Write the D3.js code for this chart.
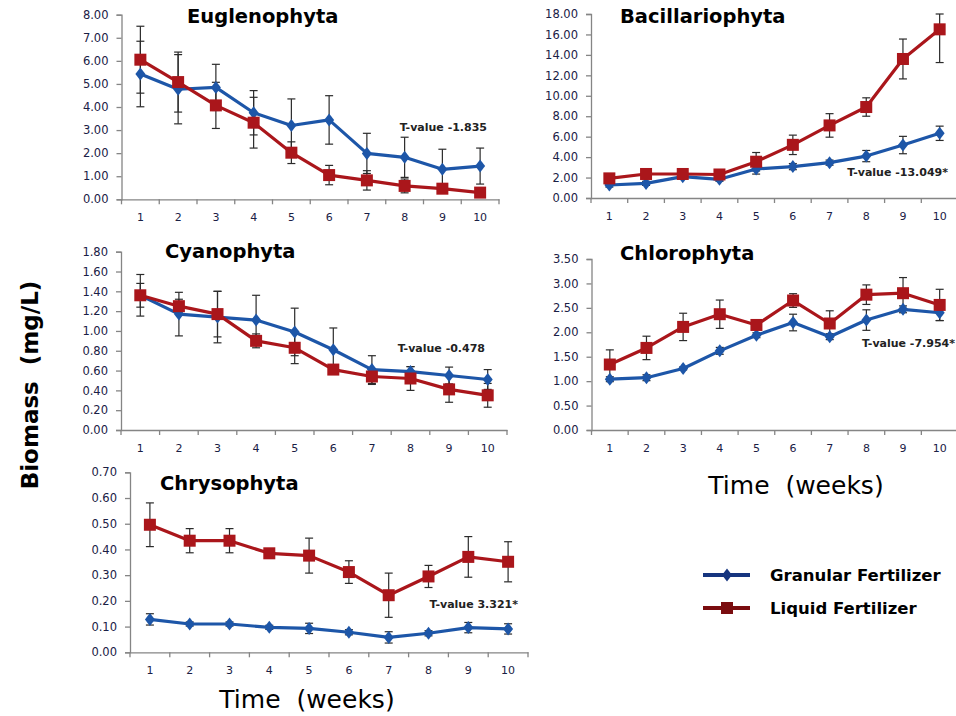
<!DOCTYPE html>
<html>
<head>
<meta charset="utf-8">
<script src="https://cdn.jsdelivr.net/npm/d3@7"></script>
<style>
  body { margin: 0; background: #fff; }
  svg { display: block; }
</style>
</head>
<body>
<div id="content-holder"></div>
<script>
// weeks on the x axis
var weeks = [1, 2, 3, 4, 5, 6, 7, 8, 9, 10];

// Euglenophyta
var eugGranular = [5.43, 4.77, 4.85, 3.75, 3.20, 3.44, 1.99, 1.82, 1.30, 1.44];
var eugGranularErr = [1.42, 1.50, 1.00, 0.96, 1.15, 1.05, 0.87, 0.87, 0.87, 0.78];
var eugLiquid = [6.05, 5.08, 4.07, 3.32, 2.02, 1.05, 0.82, 0.58, 0.46, 0.29];
var eugLiquidErr = [1.45, 1.30, 1.00, 1.10, 0.47, 0.42, 0.42, 0.30, 0.20, 0.10];

// Bacillariophyta
var bacGranular = [1.27, 1.43, 2.09, 1.83, 2.84, 3.07, 3.46, 4.10, 5.18, 6.33];
var bacGranularErr = [0.20, 0.20, 0.20, 0.20, 0.50, 0.30, 0.25, 0.55, 0.85, 0.70];
var bacLiquid = [1.92, 2.35, 2.35, 2.30, 3.55, 5.20, 7.10, 8.90, 13.60, 16.50];
var bacLiquidErr = [0.15, 0.15, 0.15, 0.15, 0.90, 0.95, 1.15, 0.90, 1.95, 3.25];

// Cyanophyta
var cyaGranular = [1.36, 1.17, 1.14, 1.11, 0.99, 0.81, 0.61, 0.59, 0.55, 0.51];
var cyaGranularErr = [0.12, 0.22, 0.26, 0.25, 0.24, 0.22, 0.14, 0.05, 0.085, 0.10];
var cyaLiquid = [1.36, 1.25, 1.17, 0.90, 0.83, 0.61, 0.54, 0.52, 0.41, 0.35];
var cyaLiquidErr = [0.21, 0.07, 0.23, 0.07, 0.16, 0.02, 0.08, 0.12, 0.13, 0.12];

// Chlorophyta
var chlGranular = [1.04, 1.07, 1.26, 1.62, 1.94, 2.20, 1.91, 2.25, 2.47, 2.40];
var chlGranularErr = [0.05, 0.06, 0.03, 0.07, 0.05, 0.17, 0.06, 0.21, 0.07, 0.16];
var chlLiquid = [1.34, 1.68, 2.11, 2.37, 2.15, 2.65, 2.18, 2.77, 2.80, 2.56];
var chlLiquidErr = [0.30, 0.24, 0.28, 0.29, 0.05, 0.14, 0.26, 0.20, 0.32, 0.32];

// Chrysophyta
var chrGranular = [0.128, 0.110, 0.110, 0.097, 0.093, 0.078, 0.058, 0.074, 0.096, 0.091];
var chrGranularErr = [0.022, 0.008, 0.008, 0.008, 0.020, 0.010, 0.022, 0.010, 0.020, 0.020];
var chrLiquid = [0.496, 0.434, 0.434, 0.385, 0.376, 0.312, 0.222, 0.295, 0.371, 0.352];
var chrLiquidErr = [0.085, 0.047, 0.047, 0.005, 0.068, 0.044, 0.086, 0.043, 0.079, 0.078];

var seriesNames = ["Granular Fertilizer", "Liquid Fertilizer"];

var ready = function(){
	var W = 956, H = 716;
	var blue = "#1d56a8", red = "#aa161b";
	var fontFam = "'DejaVu Sans', Verdana, sans-serif";

	var svg = d3.select('#content-holder')
		.append("svg")
		.attr("width", W)
		.attr("height", H)
		.attr("id", "ourCanvas");

	// where each small chart sits on the page
	var panels = [
		{title: "Euglenophyta", g: eugGranular, gE: eugGranularErr, l: eugLiquid, lE: eugLiquidErr,
			yMax: 8, step: 1, tVal: "T-value -1.835",
			left: 121.5, right: 499, top: 14.7, bottom: 199.3, titleX: 187, titleY: 23, tX: 487, tY: 131},
		{title: "Bacillariophyta", g: bacGranular, gE: bacGranularErr, l: bacLiquid, lE: bacLiquidErr,
			yMax: 18, step: 2, tVal: "T-value -13.049*",
			left: 591, right: 958, top: 14, bottom: 198, titleX: 620, titleY: 23, tX: 948, tY: 176},
		{title: "Cyanophyta", g: cyaGranular, gE: cyaGranularErr, l: cyaLiquid, lE: cyaLiquidErr,
			yMax: 1.8, step: 0.2, tVal: "T-value -0.478",
			left: 121, right: 507, top: 251.7, bottom: 430, titleX: 165, titleY: 258, tX: 485, tY: 352},
		{title: "Chlorophyta", g: chlGranular, gE: chlGranularErr, l: chlLiquid, lE: chlLiquidErr,
			yMax: 3.5, step: 0.5, tVal: "T-value -7.954*",
			left: 591.5, right: 958, top: 259, bottom: 430, titleX: 620, titleY: 260, tX: 955, tY: 347},
		{title: "Chrysophyta", g: chrGranular, gE: chrGranularErr, l: chrLiquid, lE: chrLiquidErr,
			yMax: 0.7, step: 0.1, tVal: "T-value 3.321*",
			left: 130, right: 528, top: 472.3, bottom: 652.3, titleX: 160, titleY: 490, tX: 518, tY: 608}
	];

	var diamond = "M0,-6.5L5,0L0,6.5L-5,0Z";

	var drawPanel = function(p){
		var g = svg.append("g");
		var x = d3.scaleBand().domain(weeks).range([p.left, p.right]).padding(0);
		var y = d3.scaleLinear().domain([0, p.yMax]).range([p.bottom, p.top]);
		var cx = function(i){ return x(weeks[i]) + x.bandwidth()/2; };
		var yTicks = d3.range(0, p.yMax + p.step/2, p.step);

		// y axis
		var yAxis = g.append("g")
			.attr("transform", "translate(" + p.left + ",0)")
			.call(d3.axisLeft(y).tickValues(yTicks).tickSize(5).tickPadding(8).tickFormat(d3.format(".2f")));
		yAxis.select(".domain").attr("stroke", "#858585").attr("stroke-width", 1.3);
		yAxis.selectAll(".tick line").attr("stroke", "#858585").attr("stroke-width", 1.3);
		yAxis.selectAll("text")
			.attr("font-family", fontFam)
			.attr("font-size", "11.5px")
			.attr("fill", "#1a2045");

		// x axis, ticks between weeks like excel
		var xAxis = g.append("g")
			.attr("transform", "translate(0," + p.bottom + ")")
			.call(d3.axisBottom(x).tickSize(0).tickPadding(14));
		xAxis.select(".domain").attr("stroke", "#858585").attr("stroke-width", 1.3);
		xAxis.selectAll("text")
			.attr("font-family", fontFam)
			.attr("font-size", "11px")
			.attr("fill", "#1a2045");
		xAxis.selectAll(".sep")
			.data(weeks.concat([null]))
			.enter().append("line")
			.attr("class", "sep")
			.attr("x1", function(d){ return d === null ? p.right : x(d); })
			.attr("x2", function(d){ return d === null ? p.right : x(d); })
			.attr("y1", 0)
			.attr("y2", 5)
			.attr("stroke", "#858585")
			.attr("stroke-width", 1.3);

		// error bars
		var drawErr = function(vals, errs){
			vals.forEach(function(v, i){
				var hi = y(Math.min(v + errs[i], p.yMax));
				var lo = y(Math.max(v - errs[i], 0));
				var eb = g.append("g").attr("class", "err");
				eb.append("line").attr("x1", cx(i)).attr("x2", cx(i)).attr("y1", hi).attr("y2", lo);
				eb.append("line").attr("x1", cx(i) - 4).attr("x2", cx(i) + 4).attr("y1", hi).attr("y2", hi);
				eb.append("line").attr("x1", cx(i) - 4).attr("x2", cx(i) + 4).attr("y1", lo).attr("y2", lo);
				eb.selectAll("line").attr("stroke", "#2b2b2b").attr("stroke-width", 1.2);
			});
		};
		drawErr(p.g, p.gE);
		drawErr(p.l, p.lE);

		var line = d3.line()
			.x(function(d, i){ return cx(i); })
			.y(function(d){ return y(d); });

		// granular series
		g.append("path")
			.datum(p.g)
			.attr("d", line)
			.attr("fill", "none")
			.attr("stroke", blue)
			.attr("stroke-width", 3.2)
			.attr("stroke-linejoin", "round");
		g.selectAll(".dia")
			.data(p.g)
			.enter().append("path")
			.attr("class", "dia")
			.attr("d", diamond)
			.attr("transform", function(d, i){ return "translate(" + cx(i) + "," + y(d) + ")"; })
			.attr("fill", blue);

		// liquid series
		g.append("path")
			.datum(p.l)
			.attr("d", line)
			.attr("fill", "none")
			.attr("stroke", red)
			.attr("stroke-width", 3.2)
			.attr("stroke-linejoin", "round");
		g.selectAll(".sq")
			.data(p.l)
			.enter().append("rect")
			.attr("class", "sq")
			.attr("x", function(d, i){ return cx(i) - 6; })
			.attr("y", function(d){ return y(d) - 6; })
			.attr("width", 12)
			.attr("height", 12)
			.attr("fill", red);

		g.append("text")
			.text(p.title)
			.attr("x", p.titleX)
			.attr("y", p.titleY)
			.attr("font-family", fontFam)
			.attr("font-weight", "bold")
			.attr("font-size", "19.5px")
			.attr("fill", "#000");

		g.append("text")
			.text(p.tVal)
			.attr("x", p.tX)
			.attr("y", p.tY)
			.attr("text-anchor", "end")
			.attr("font-family", fontFam)
			.attr("font-weight", "bold")
			.attr("font-size", "11px")
			.attr("fill", "#222");
	};

	panels.forEach(drawPanel);

	// shared axis titles
	svg.append("text")
		.text("Biomass  (mg/L)")
		.attr("transform", "translate(38,385) rotate(-90)")
		.attr("text-anchor", "middle")
		.style("white-space", "pre")
		.attr("font-family", fontFam)
		.attr("font-weight", "bold")
		.attr("font-size", "23px")
		.attr("fill", "#000");

	svg.selectAll(".xtitle")
		.data([[307, 708], [796, 494]])
		.enter().append("text")
		.attr("class", "xtitle")
		.text("Time  (weeks)")
		.attr("x", function(d){ return d[0]; })
		.attr("y", function(d){ return d[1]; })
		.attr("text-anchor", "middle")
		.style("white-space", "pre")
		.attr("font-family", fontFam)
		.attr("font-size", "25px")
		.attr("fill", "#000");

	// legend
	var legendColors = ["#16357f", "#7a0d0f"];
	var legend = svg.append("g").attr("transform", "translate(703,575)");
	seriesNames.forEach(function(name, i){
		var row = legend.append("g").attr("transform", "translate(0," + (i * 33) + ")");
		row.append("line")
			.attr("x1", 0).attr("x2", 47).attr("y1", 0).attr("y2", 0)
			.attr("stroke", legendColors[i])
			.attr("stroke-width", 4);
		if(i == 0){
			row.append("path").attr("d", diamond).attr("transform", "translate(24,0)").attr("fill", legendColors[i]);
		} else {
			row.append("rect").attr("x", 18).attr("y", -6).attr("width", 12).attr("height", 12).attr("fill", legendColors[i]);
		}
		row.append("text")
			.text(name)
			.attr("x", 67)
			.attr("y", 6)
			.attr("font-family", fontFam)
			.attr("font-weight", "bold")
			.attr("font-size", "16.5px")
			.attr("fill", "#000");
	});
};
document.addEventListener("DOMContentLoaded", ready);
</script>
</body>
</html>
